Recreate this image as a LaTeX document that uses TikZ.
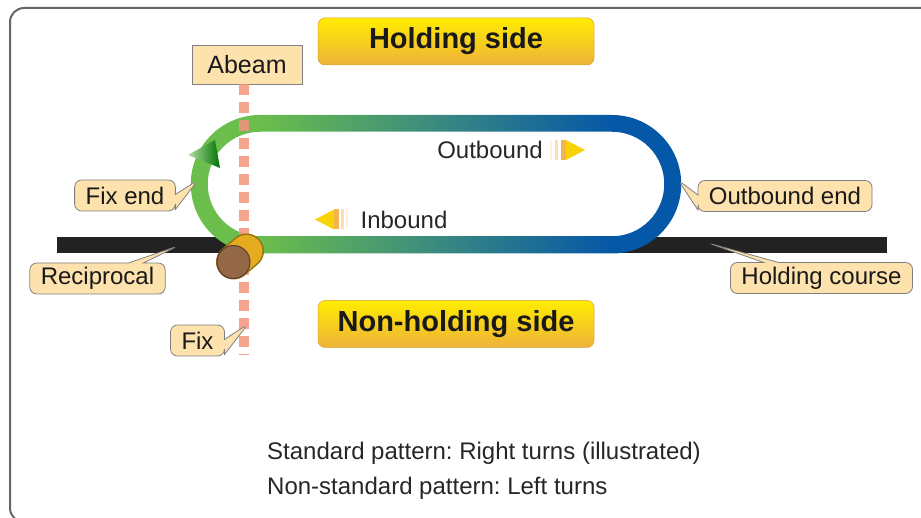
\documentclass[tikz,border=0pt]{standalone}
\usepackage{fontspec}
\setmainfont{Liberation Sans}
\usetikzlibrary{shapes.callouts}
\frenchspacing

\definecolor{trackgreen}{RGB}{107,190,75}
\definecolor{trackteal}{RGB}{59,138,128}
\definecolor{trackblue}{RGB}{5,87,167}
\definecolor{labelfill}{RGB}{253,226,174}
\definecolor{abeamline}{RGB}{244,147,124}
\definecolor{coursegray}{RGB}{34,34,34}
\definecolor{fixbrown}{RGB}{148,104,70}
\definecolor{fixgold}{RGB}{228,172,30}
\definecolor{sideyellow}{RGB}{255,236,0}
\definecolor{sideorange}{RGB}{238,178,58}
\definecolor{arrowyellow}{RGB}{250,210,10}
\definecolor{arroworange}{RGB}{240,160,40}

\pgfdeclarehorizontalshading{trackshade}{100bp}{color(0bp)=(trackgreen); color(32bp)=(trackgreen); color(50bp)=(trackteal); color(68bp)=(trackblue); color(100bp)=(trackblue)}

\tikzset{
  tag/.style={rectangle callout, fill=labelfill, draw=gray, line width=0.8pt,
    rounded corners=7pt, inner xsep=11pt, inner ysep=0pt, minimum height=31pt,
    callout pointer width=15pt, text=black!90, font=\fontsize{24}{28}\selectfont},
  sidebox/.style={rounded corners=7pt, top color=sideyellow, bottom color=sideorange,
    draw=sideorange!90!black, line width=0.5pt,
    minimum width=276pt, minimum height=47pt, text=black!90,
    font=\fontsize{29}{34}\selectfont\bfseries},
  plain/.style={inner sep=0pt, text=black!85, font=\fontsize{24}{28}\selectfont}
}

\begin{document}
\begin{tikzpicture}[x=1pt,y=1pt]
  \useasboundingbox (0,0) rectangle (921,517);

  \begin{scope}
    \clip (0,0) rectangle (921,517);
    \draw[gray!80!black, line width=2pt, rounded corners=14pt] (10,-5) rectangle (945,509);
  \end{scope}

  \coordinate [] (A) at (57,272);
  \coordinate [] (B) at (887,272);
  \coordinate [] (F) at (244,162);
  \coordinate [] (fix) at (233.5,255);

  \node[sidebox] (holding) at (456,475.5) {Holding side};
  \node[sidebox] (nonholding) at (456,193) {Non-holding side};
  \node[draw=gray, fill=labelfill, minimum width=110pt, minimum height=39pt, text=black!90,
    font=\fontsize{25}{30}\selectfont] (abeam) at (247,452.5) {Abeam};

  \draw[coursegray, line width=16pt] (A) -- (B);

  \shade[shading=trackshade, even odd rule]
    (260,402) -- (612,402) arc[start angle=90, end angle=-90, radius=69.25]
    -- (260,263.5) arc[start angle=270, end angle=90, radius=69.25] -- cycle
    (260,385.25) -- (612,385.25) arc[start angle=90, end angle=-90, radius=52.25]
    -- (260,280.75) arc[start angle=270, end angle=90, radius=52.25] -- cycle;
  \shade[left color=trackgreen!50!white, right color=green!45!black]
    (188,362) -- (215,377) -- (220,349) -- cycle;

  \draw[abeamline, line width=10pt, dash pattern=on 11pt off 7pt, opacity=0.85]
    (abeam.south -| F) -- (F);

  \draw[fixgold!65!black, line width=35pt, line cap=round] (fix) -- ++(13,11);
  \draw[fixgold, line width=32pt, line cap=round] (fix) -- ++(13,11);
  \draw[fill=fixbrown, draw=fixbrown!60!black, line width=1pt] (fix) circle[radius=16.5];

  \node[plain] (outtext) at (490,367) {Outbound};
  \foreach \x/\w/\op in {550/2/0.15, 555/2.5/0.35, 561/5/0.8}
    \fill[arroworange, opacity=\op] (\x,357) rectangle ++(\w,20);
  \fill[arrowyellow] (566,357) -- (585,367) -- (566,377) -- cycle;

  \node[plain] (intext) at (404,297) {Inbound};
  \foreach \x/\w/\op in {334/5/0.8, 341/2.5/0.35, 346/2/0.15}
    \fill[arroworange, opacity=\op] (\x,287.5) rectangle ++(\w,20);
  \fill[arrowyellow] (334,287.5) -- (315,297.5) -- (334,307.5) -- cycle;

  \node[tag, callout absolute pointer={(198,337)}] (fixend) at (125,321.5) {Fix end};
  \node[tag, callout absolute pointer={(678,337)}] (outend) at (785,321) {Outbound end};
  \node[tag, callout absolute pointer={(178,271)}] (recip) at (97.5,238.5) {Reciprocal};
  \node[tag, callout absolute pointer={(708,274)}] (course) at (821.5,239) {Holding course};
  \node[tag, callout absolute pointer={(248,193)}] (fixtag) at (197.5,176.5) {Fix};

  \node[plain, anchor=base west] (std) at (267,58) {Standard pattern: Right turns (illustrated)};
  \node[plain, anchor=base west] (nonstd) at (267,23) {Non-standard pattern: Left turns};
\end{tikzpicture}
\end{document}
